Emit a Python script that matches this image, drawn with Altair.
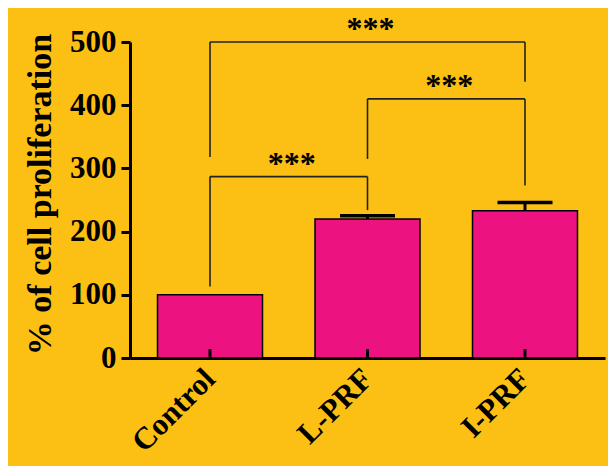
import altair as alt
import pandas as pd

# ---- data ----
categories = ["Control", "L-PRF", "I-PRF"]
means = [100, 220, 233]
errors = [0, 5, 13]

# significance brackets: left group, right group, bracket level, leg ends, label
cmp_left = [0, 1, 0]
cmp_right = [1, 2, 2]
cmp_level = [287, 410, 500]
cmp_left_end = [113, 315, 318]
cmp_right_end = [234, 273, 437]
cmp_label = ["***", "***", "***"]

y_ticks = [0, 100, 200, 300, 400, 500]

BG = "#FCBF14"
BAR = "#EC1380"
LINE = "#222222"
FONT = "Liberation Serif"

half = 1 / 3
bars = pd.DataFrame({"pos": list(range(len(categories))), "cat": categories,
                     "mean": means, "err": errors})
bars["lo"] = bars["pos"] - half
bars["hi"] = bars["pos"] + half
bars["top"] = bars["mean"] + bars["err"]
err_df = bars[bars["err"] > 0]

cmp = pd.DataFrame({"l": cmp_left, "r": cmp_right, "level": cmp_level,
                    "lend": cmp_left_end, "rend": cmp_right_end, "label": cmp_label})
cmp["mid"] = (cmp["l"] + cmp["r"]) / 2
legs = pd.concat([
    pd.DataFrame({"x": cmp["l"], "level": cmp["level"], "end": cmp["lend"]}),
    pd.DataFrame({"x": cmp["r"], "level": cmp["level"], "end": cmp["rend"]}),
], ignore_index=True)

xs = alt.Scale(domain=[-0.508, 2.508], nice=False, zero=False)
ys = alt.Scale(domain=[0, 500], nice=False)

label_expr = "[" + ",".join("'%s'" % c for c in categories) + "][datum.value]"

x_axis = alt.Axis(values=list(range(len(categories))), labelExpr=label_expr,
                  ticks=False, grid=False, domainColor="black", domainWidth=3,
                  labelFont=FONT, labelFontWeight="bold", labelFontSize=31,
                  labelColor="black", labelAngle=315, labelAlign="right",
                  labelBaseline="middle", labelPadding=16, title=None)
y_axis = alt.Axis(values=y_ticks, grid=False, domainColor="black", domainWidth=3,
                  tickColor="black", tickWidth=3, tickSize=9,
                  labelFont=FONT, labelFontWeight="bold", labelFontSize=31,
                  labelColor="black", labelPadding=5,
                  title="% of cell proliferation", titleFont=FONT,
                  titleFontWeight="bold", titleFontSize=34, titleColor="black",
                  titlePadding=12, titleY=152)


def X(field):
    return alt.X(field, scale=xs, axis=x_axis)


def Y(field):
    return alt.Y(field, scale=ys, axis=y_axis)


bar_layer = alt.Chart(bars).mark_bar(color=BAR, stroke="black", strokeWidth=1.5,
                                     opacity=1).encode(
    x=X("lo:Q"), x2="hi:Q", y=Y("mean:Q"), y2=alt.datum(0),
)

x_ticks = alt.Chart(bars).mark_rule(color="black", strokeWidth=3).encode(
    x=X("pos:Q"), y=alt.datum(0, scale=ys, axis=y_axis), y2=alt.datum(14),
)

stems = alt.Chart(err_df).mark_rule(color="black", strokeWidth=3).encode(
    x=X("pos:Q"), y=Y("mean:Q"), y2="top:Q",
)
caps = alt.Chart(err_df).mark_tick(color="black", orient="horizontal", opacity=1,
                                   size=55, thickness=3.5).encode(
    x=X("pos:Q"), y=Y("top:Q"),
)

hbars = alt.Chart(cmp).mark_rule(color=LINE, strokeWidth=1.6).encode(
    x=X("l:Q"), x2="r:Q", y=Y("level:Q"),
)
vlegs = alt.Chart(legs).mark_rule(color=LINE, strokeWidth=1.6).encode(
    x=X("x:Q"), y=Y("level:Q"), y2="end:Q",
)
stars = alt.Chart(cmp).mark_text(font=FONT, fontWeight="bold", fontSize=32,
                                 color="black", baseline="alphabetic",
                                 align="center", dx=3, dy=-3).encode(
    x=X("mid:Q"), y=Y("level:Q"), text="label:N",
)

chart = alt.layer(bar_layer, x_ticks, stems, caps, hbars, vlegs, stars).properties(
    width=475, height=316,
    autosize=alt.AutoSizeParams(type="none"),
    padding={"left": 122, "top": 34, "right": 3, "bottom": 108},
    background=BG,
).configure_view(stroke=None)

chart.save("out.html", embed_options={"renderer": "svg", "actions": False})
